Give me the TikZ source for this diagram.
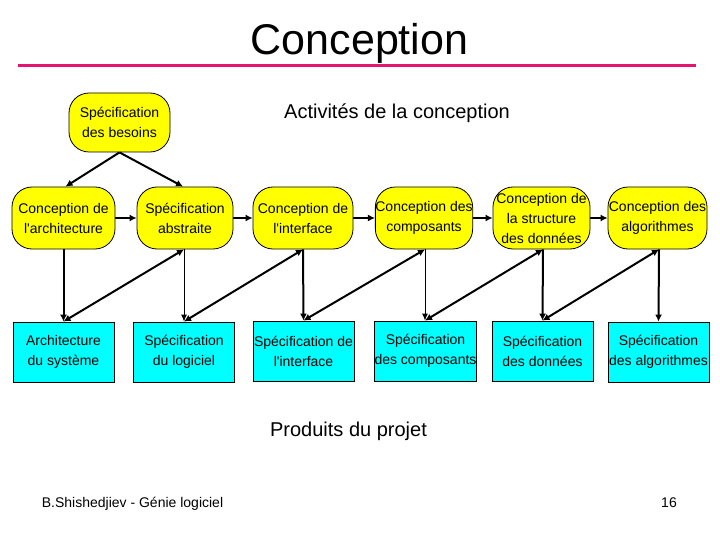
\documentclass[tikz,border=0pt]{standalone}
\usepackage{fontspec}
\setmainfont{Liberation Sans}[Ligatures=TeXOff]
\usetikzlibrary{arrows.meta}
\definecolor{titlepink}{RGB}{230,20,110}
\definecolor{boxyellow}{RGB}{255,255,0}
\definecolor{boxcyan}{RGB}{0,255,255}
\begin{document}
\begin{tikzpicture}[x=1pt,y=-1pt,
  activity/.style={draw=black, line width=0.8pt, fill=boxyellow, rounded corners=20pt,
    minimum width=100pt, minimum height=62pt, inner sep=0pt, align=center,
    font=\fontsize{14}{20}\selectfont},
  product/.style={draw=black, line width=0.8pt, fill=boxcyan,
    minimum width=101pt, minimum height=60pt, inner sep=0pt, align=center,
    font=\fontsize{14}{20}\selectfont},
  conn/.style={line width=2pt, -{Latex[length=7pt,width=7pt]}},
  thinconn/.style={line width=1pt, -{Latex[length=7pt,width=6pt]}},
  diag/.style={line width=2pt, {Latex[length=7pt,width=7pt]}-{Latex[length=7pt,width=7pt]}},
  label/.style={inner sep=0pt, font=\fontsize{20}{24}\selectfont},
  footer/.style={inner sep=0pt, font=\fontsize{14}{16}\selectfont}
]
\useasboundingbox (0,0) rectangle (720,540);
\fill[white] (0,0) rectangle (720,540);

% title
\node[inner sep=0pt, font=\fontsize{43}{48}\selectfont] (title) at (359.5,43) {Conception};
\coordinate (ruleL) at (18,65.5);
\coordinate (ruleR) at (696,65.5);
\draw[titlepink, line width=3pt] (ruleL) -- (ruleR);

% labels
\node[label] (act) at (397,113.5) {Activités de la conception};
\node[label] (prod) at (348.5,431) {Produits du projet};
\node[footer] (author) at (132.5,504) {B.Shishedjiev - Génie logiciel};
\node[footer] (page) at (669,503) {16};

% top box
\node[activity, minimum width=101pt, minimum height=59pt] (besoins) at (119.5,122.5) {Spécification\\des besoins};

% activity row
\node[activity, minimum width=103pt] (a1) at (63.5,218) {Conception de\\l'architecture};
\node[activity, minimum width=96pt] (a2) at (185,218) {Spécification\\abstraite};
\node[activity] (a3) at (303,218) {Conception de\\l'interface};
\node[activity, minimum width=96pt] (a4) at (424,218) {Conception des\\composants};
\node[activity, minimum width=97pt] (a5) at (541.5,218) {Conception de\\la structure\\des données};
\node[activity, minimum width=99pt] (a6) at (657.5,218) {Conception des\\algorithmes};

% product row
\node[product] (p1) at (63.5,352) {Architecture\\du système};
\node[product] (p2) at (184,352) {Spécification\\du logiciel};
\node[product] (p3) at (303.5,351) {Spécification de\\l'interface};
\node[product] (p4) at (425.5,351) {Spécification\\des composants};
\node[product] (p5) at (542.5,351) {Spécification\\des données};
\node[product] (p6) at (658.5,352) {Spécification\\des algorithmes};

% top arrows
\draw[conn] (besoins.south) -- ([xshift=2pt]a1.north);
\draw[conn] (besoins.south) -- ([xshift=-2pt]a2.north);

% horizontal arrows
\draw[conn] (a1.east) -- (a2.west);
\draw[conn] (a2.east) -- (a3.west);
\draw[conn] (a3.east) -- (a4.west);
\draw[conn] (a4.east) -- (a5.west);
\draw[conn] (a5.east) -- (a6.west);

% vertical arrows
\draw[conn] (a1.south) -- (p1.north);
\draw[thinconn] ([xshift=-1pt]a2.south) -- (p2.north);
\draw[conn] (a3.south) -- (p3.north);
\draw[thinconn] ([xshift=1pt]a4.south) -- ([xshift=-0.5pt]p4.north);
\draw[conn] ([xshift=1.5pt]a5.south) -- (p5.north);
\draw[conn] ([xshift=1.5pt]a6.south) -- (p6.north);

% diagonal double arrows
\draw[diag] (p1.north) -- ([xshift=-1pt]a2.south);
\draw[diag] (p2.north) -- (a3.south);
\draw[diag] (p3.north) -- ([xshift=1pt]a4.south);
\draw[diag] ([xshift=-0.5pt]p4.north) -- ([xshift=1.5pt]a5.south);
\draw[diag] (p5.north) -- ([xshift=1.5pt]a6.south);
\end{tikzpicture}
\end{document}
